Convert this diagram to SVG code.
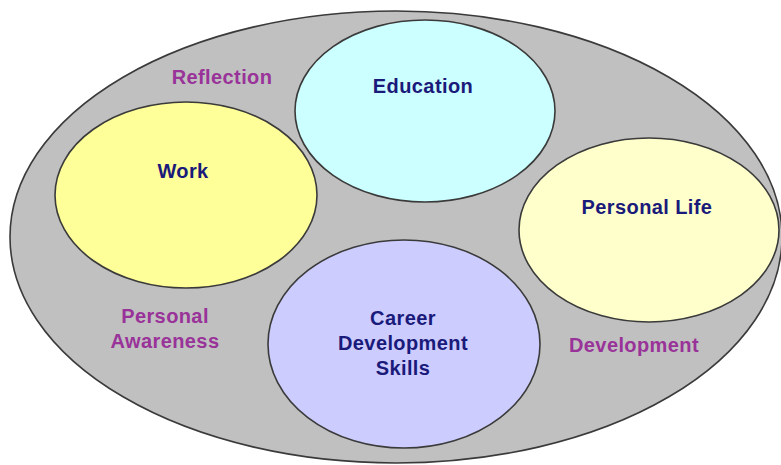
<svg xmlns="http://www.w3.org/2000/svg" width="781" height="465" viewBox="0 0 781 465">
<style>
.shape{stroke:#3a3a3a;stroke-width:1.6}
.t{font-family:"Liberation Sans",Arial,sans-serif;font-weight:bold;font-size:20px;letter-spacing:0.4px;text-anchor:middle}
.n{fill:#1a1a7a}
.l{fill:#993399}
</style>
<rect width="781" height="465" fill="#ffffff"/>
<g id="outer">
<ellipse class="shape" cx="396" cy="237" rx="386" ry="226" fill="#c0c0c0"/>
</g>
<g id="labels">
<text class="t l" x="222" y="84">Reflection</text>
<text class="t l" x="165" y="323">Personal</text>
<text class="t l" x="165" y="348">Awareness</text>
<text class="t l" x="634" y="352">Development</text>
</g>
<g id="education">
<ellipse class="shape" cx="425" cy="111" rx="130" ry="91" fill="#ccffff"/>
<text class="t n" x="423" y="93">Education</text>
</g>
<g id="work">
<ellipse class="shape" cx="186" cy="195" rx="131" ry="93" fill="#ffff99"/>
<text class="t n" x="183" y="178">Work</text>
</g>
<g id="personal-life">
<ellipse class="shape" cx="649" cy="230" rx="130" ry="92" fill="#ffffcc"/>
<text class="t n" x="647" y="214">Personal Life</text>
</g>
<g id="career">
<ellipse class="shape" cx="404" cy="344" rx="136" ry="104" fill="#ccccff"/>
<text class="t n" x="403" y="325">Career</text>
<text class="t n" x="403" y="350">Development</text>
<text class="t n" x="403" y="375">Skills</text>
</g>
<g id="connectors"/>
</svg>
